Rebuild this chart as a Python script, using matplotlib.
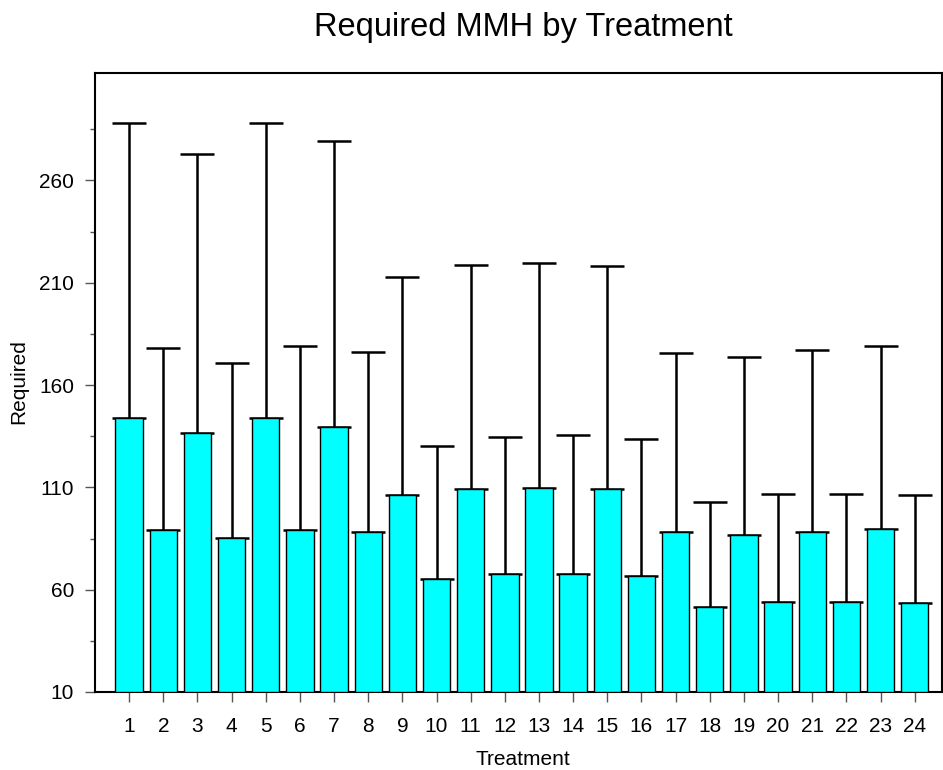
import matplotlib.pyplot as plt

plt.rcParams['font.family'] = ['Liberation Sans', 'DejaVu Sans']

treatments = list(range(1, 25))
required = [144.1, 89.1, 136.6, 85.5, 144.1, 89.4, 139.6, 88.1, 106.5, 65.0,
            109.3, 67.5, 109.8, 67.8, 109.1, 66.8, 88.1, 51.5, 86.7, 53.8,
            88.1, 53.8, 89.6, 53.3]
upper = [288.3, 178.3, 273.0, 171.0, 288.3, 179.0, 279.3, 176.2, 212.8, 130.1,
         218.6, 134.7, 219.6, 135.5, 218.0, 133.4, 175.9, 102.9, 173.6, 107.0,
         177.0, 107.0, 179.1, 106.5]
err = [u - r for u, r in zip(upper, required)]

fig = plt.figure(figsize=(9.43, 7.70), dpi=100)
ax = fig.add_axes([0.1007, 0.1013, 0.8983, 0.8039])

base = 10
ax.bar(treatments, [r - base for r in required], bottom=base, width=0.8,
       color='#00FFFF', edgecolor='black', linewidth=1, zorder=3)
ax.errorbar(treatments, required, yerr=[[0] * len(err), err], fmt='none',
            ecolor='black', elinewidth=1.8, capsize=12, capthick=1.8, zorder=2)

ax.set_xlim(0, 24.8)
ax.set_ylim(10, 312.5)
ax.set_xticks(treatments)
ax.set_yticks(range(10, 261, 50))
ax.set_yticks(range(35, 311, 50), minor=True)

ax.tick_params(axis='both', which='major', direction='out', length=7,
               width=1, color='#555555', labelsize=15)
ax.tick_params(axis='x', pad=11)
ax.tick_params(axis='y', pad=8)
ax.tick_params(axis='y', which='minor', length=3.5, width=1, color='#555555')
for s in ax.spines.values():
    s.set_linewidth(1.5)

ax.set_xlabel('Treatment', fontsize=15, va='baseline')
ax.xaxis.set_label_coords(0.5546, 1 - 765 / 770, transform=fig.transFigure)
ax.set_ylabel('Required', fontsize=15, va='center')
ax.yaxis.set_label_coords(19 / 943, 1 - 382 / 770, transform=fig.transFigure)
fig.suptitle('Required MMH by Treatment', fontsize=23.5, x=0.5546, y=0.953,
             va='baseline')

fig.savefig('out.png', dpi=100)
